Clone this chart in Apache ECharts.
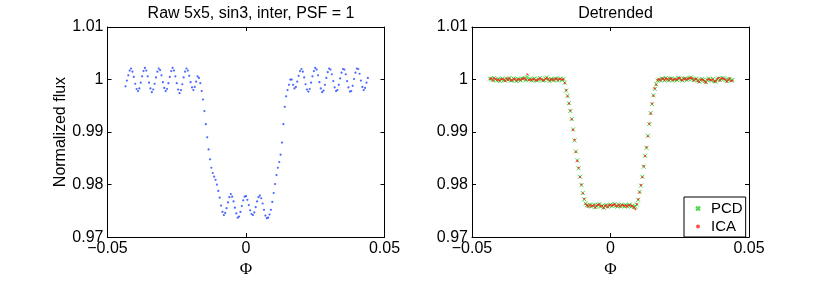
<!DOCTYPE html>
<html><head><meta charset="utf-8">
<script src="https://cdn.jsdelivr.net/npm/echarts@6/dist/echarts.min.js"></script>
<style>html,body{margin:0;padding:0;background:#fff}#c{width:830px;height:283px}</style>
</head><body><div id="c"></div>
<script>
// Phase values (x)
const phase = [
-0.0435,-0.043,-0.0425,-0.042,-0.0415,-0.041,-0.0405,-0.04,-0.0395,-0.039,
-0.0385,-0.038,-0.0375,-0.037,-0.0365,-0.036,-0.0355,-0.035,-0.0345,-0.034,
-0.0335,-0.033,-0.0325,-0.032,-0.0315,-0.031,-0.0305,-0.03,-0.0295,-0.029,
-0.0285,-0.028,-0.0275,-0.027,-0.0265,-0.026,-0.0255,-0.025,-0.0245,-0.024,
-0.0235,-0.023,-0.0225,-0.022,-0.0215,-0.021,-0.0205,-0.02,-0.0195,-0.019,
-0.0185,-0.018,-0.0175,-0.017,-0.0165,-0.016,-0.0155,-0.015,-0.0145,-0.014,
-0.0135,-0.013,-0.0125,-0.012,-0.0115,-0.011,-0.0105,-0.01,-0.0095,-0.009,
-0.0085,-0.008,-0.0075,-0.007,-0.0065,-0.006,-0.0055,-0.005,-0.0045,-0.004,
-0.0035,-0.003,-0.0025,-0.002,-0.0015,-0.001,-0.0005,0,0.0005,0.001,
0.0015,0.002,0.0025,0.003,0.0035,0.004,0.0045,0.005,0.0055,0.006,
0.0065,0.007,0.0075,0.008,0.0085,0.009,0.0095,0.01,0.0105,0.011,
0.0115,0.012,0.0125,0.013,0.0135,0.014,0.0145,0.015,0.0155,0.016,
0.0165,0.017,0.0175,0.018,0.0185,0.019,0.0195,0.02,0.0205,0.021,
0.0215,0.022,0.0225,0.023,0.0235,0.024,0.0245,0.025,0.0255,0.026,
0.0265,0.027,0.0275,0.028,0.0285,0.029,0.0295,0.03,0.0305,0.031,
0.0315,0.032,0.0325,0.033,0.0335,0.034,0.0345,0.035,0.0355,0.036,
0.0365,0.037,0.0375,0.038,0.0385,0.039,0.0395,0.04,0.0405,0.041,
0.0415,0.042,0.0425,0.043,0.0435,0.044
];
// Raw normalized flux (left panel)
const rawFlux = [
0.9987,0.9998,1.0008,1.0017,1.0021,1.0015,1.0005,0.9992,0.9982,0.9978,
0.9983,0.9994,1.0006,1.0016,1.0022,1.0017,1.0006,0.9994,0.9983,0.9976,
0.9981,0.9992,1.0004,1.0015,1.0021,1.0018,1.0008,0.9995,0.9984,0.9978,
0.9982,0.9993,1.0005,1.0016,1.0022,1.0017,1.0006,0.9993,0.9981,0.9974,
0.998,0.9991,1.0004,1.0015,1.0021,1.0017,1.0007,0.9995,0.9985,0.998,
0.9986,0.9996,1.0006,1.0003,0.9993,0.9978,0.9962,0.994,0.9915,0.989,
0.9867,0.9848,0.9832,0.9822,0.9815,0.9809,0.98,0.9788,0.9775,0.976,
0.9748,0.9742,0.9746,0.9755,0.9766,0.9776,0.9782,0.9777,0.9768,0.9756,
0.9745,0.9737,0.9739,0.9748,0.9759,0.977,0.9777,0.9778,0.9771,0.9761,
0.9751,0.9744,0.9742,0.9747,0.9757,0.9768,0.9776,0.9779,0.9774,0.9764,
0.9752,0.9741,0.9736,0.9737,0.9743,0.9752,0.9767,0.9784,0.9801,0.9818,
0.9832,0.9843,0.9857,0.988,0.9915,0.9948,0.9968,0.998,0.999,1.0,
1.0,0.999,0.9983,0.9986,0.9996,1.0007,1.0016,1.002,1.0015,1.0004,
0.9991,0.9981,0.9977,0.9982,0.9994,1.0006,1.0016,1.0022,1.0019,1.0008,
0.9995,0.9983,0.9976,0.9979,0.999,1.0003,1.0014,1.0021,1.0019,1.001,
0.9997,0.9985,0.9978,0.998,0.999,1.0002,1.0013,1.002,1.0019,1.001,
0.9997,0.9985,0.9977,0.9978,0.9988,1.0001,1.0013,1.0021,1.002,1.0011,
0.9998,0.9986,0.998,0.9984,0.9994,1.0003
];
// Detrended flux, PCD (right panel)
const pcdFlux = [
1.0002,1.0001,0.9999,1.0003,1.0,0.9998,1.0001,0.9997,1.0,1.0002,
0.9999,0.9998,1.0001,1.0,1.0003,0.9998,0.9999,1.0002,1.0,0.9997,
1.0001,1.0,0.9998,1.0002,1.0001,1.0003,0.9999,1.0005,1.0,1.0001,
0.9998,1.0,1.0002,0.9999,0.9998,1.0001,1.0003,1.0,0.9998,0.9999,
1.0002,1.0004,1.0,0.9997,1.0001,1.0,0.9999,1.0002,1.0001,0.9998,
1.0,1.0002,0.9999,1.0001,0.9994,0.9979,0.9969,0.9955,0.994,0.9925,
0.9905,0.9884,0.9863,0.9846,0.9831,0.9815,0.9799,0.9784,0.9772,0.9764,
0.9761,0.9759,0.9761,0.9758,0.976,0.9762,0.9757,0.9759,0.9761,0.9763,
0.9758,0.976,0.9756,0.9759,0.9761,0.9758,0.976,0.9762,0.9759,0.9761,
0.9763,0.976,0.9758,0.9761,0.9759,0.9762,0.976,0.9758,0.9761,0.9759,
0.976,0.9762,0.9758,0.976,0.9757,0.9758,0.9762,0.9771,0.9786,0.9798,
0.9815,0.9834,0.9855,0.987,0.9893,0.9915,0.9936,0.9953,0.997,0.9982,
0.9991,0.9998,1.0,0.9999,1.0002,1.0001,0.9998,1.0003,1.0,0.9999,
1.0001,1.0002,0.9998,1.0,1.0001,0.9999,1.0003,1.0002,1.0,0.9998,
1.0001,1.0002,0.9999,1.0001,1.0003,1.0004,1.0001,0.9999,1.0,1.0002,
0.9998,0.9996,0.9999,1.0001,1.0,0.9997,0.9995,0.9999,1.0002,1.0,
0.9998,1.0001,0.9997,0.9996,1.0,1.0002,0.9999,1.0001,1.0003,1.0002,
0.9999,0.9997,1.0,1.0001,0.9998,0.9999
];
// Detrended flux, ICA (right panel)
const icaFlux = [
1.0001,1.0002,0.9998,1.0002,1.0001,0.9999,1.0,0.9998,1.0001,1.0001,
1.0,0.9997,1.0002,0.9999,1.0002,0.9999,0.9998,1.0001,1.0001,0.9998,
1.0,1.0001,0.9999,1.0001,1.0002,1.0002,1.0,1.001,0.9999,1.0,
0.9999,1.0001,1.0001,0.9998,0.9999,1.0,1.0002,1.0001,0.9999,0.9998,
1.0001,1.0003,1.0001,0.9998,1.0,1.0001,0.9998,1.0001,1.0002,0.9999,
1.0001,1.0001,1.0,1.0,0.9993,0.998,0.9968,0.9954,0.9941,0.9924,
0.9904,0.9885,0.9862,0.9845,0.9832,0.9814,0.98,0.9783,0.9773,0.9763,
0.976,0.9758,0.9762,0.9759,0.9759,0.9761,0.9756,0.976,0.9762,0.9762,
0.9759,0.9759,0.9755,0.976,0.976,0.9757,0.9761,0.9761,0.976,0.9762,
0.9762,0.9759,0.9759,0.9762,0.9758,0.9761,0.9761,0.9759,0.976,0.9758,
0.9761,0.9761,0.9759,0.9759,0.9756,0.9753,0.9763,0.9772,0.9785,0.9799,
0.9814,0.9835,0.9854,0.9871,0.9892,0.9916,0.9935,0.9954,0.9969,0.9983,
0.999,0.9999,1.0001,0.9998,1.0001,1.0002,0.9999,1.0002,1.0001,0.9998,
1.0002,1.0001,0.9999,1.0001,1.0,1.0,1.0002,1.0003,0.9999,0.9999,
1.0002,1.0001,1.0,1.0002,1.0002,1.0003,1.0002,0.9998,1.0001,1.0001,
0.9997,0.9995,1.0,1.0,0.9999,0.9996,0.9994,1.0,1.0001,0.9999,
0.9999,1.0,0.9996,0.9997,1.0001,1.0003,0.9998,1.0002,1.0002,1.0001,
1.0,0.9996,0.9999,1.0002,0.9997,0.9998
];
const xRange = [-0.05, 0.05];
const xStep = 0.05;
const yRange = [0.97, 1.01];
const yStep = 0.01;
const panelTitles = ['Raw 5x5, sin3, inter, PSF = 1', 'Detrended'];
const seriesNames = ['PCD', 'ICA'];
const xName = 'Φ';
const yName = 'Normalized flux';

const FONT = 'Liberation Sans, Arial, Helvetica, sans-serif';
const SERIF = 'Liberation Serif, DejaVu Serif, serif';
const pairs = ys => phase.map((p, i) => [p, ys[i]]);
const xFmt = v => Math.abs(v) < 1e-9 ? '0' : (v < 0 ? '\u2212' + (+Math.abs(v).toFixed(4)) : String(+v.toFixed(4)));
const yFmt = v => String(+v.toFixed(4));

const grids = [
  {left: 107.5, top: 27, width: 277, height: 213.5},
  {left: 472, top: 27, width: 277, height: 213.5}
];
const line = {show: true, onZero: false, lineStyle: {color: '#000', width: 1}};
const tick = {show: true, inside: true, length: 4, lineStyle: {color: '#000', width: 1}};
const lab = {color: '#000', fontSize: 16, fontFamily: FONT};

const xAxis = [], yAxis = [];
grids.forEach((g, gi) => {
  xAxis.push({gridIndex: gi, type: 'value', min: xRange[0], max: xRange[1], interval: xStep, position: 'bottom',
    axisLine: line, axisTick: tick, splitLine: {show: false},
    axisLabel: Object.assign({margin: 3, formatter: xFmt}, lab),
    name: xName, nameLocation: 'middle', nameGap: 18,
    nameTextStyle: {color: '#000', fontSize: 17, fontFamily: SERIF}});
  xAxis.push({gridIndex: gi, type: 'value', min: xRange[0], max: xRange[1], interval: xStep, position: 'top',
    axisLine: line, axisTick: tick, splitLine: {show: false}, axisLabel: {show: false}});
  yAxis.push({gridIndex: gi, type: 'value', min: yRange[0], max: yRange[1], interval: yStep, position: 'left',
    axisLine: line, axisTick: tick, splitLine: {show: false},
    axisLabel: Object.assign({margin: 4, formatter: yFmt}, lab),
    name: gi === 0 ? yName : '', nameLocation: 'middle', nameGap: 36, nameTextStyle: lab});
  yAxis.push({gridIndex: gi, type: 'value', min: yRange[0], max: yRange[1], interval: yStep, position: 'right',
    axisLine: line, axisTick: tick, splitLine: {show: false}, axisLabel: {show: false}});
});

const option = {
  backgroundColor: '#fff',
  animation: false,
  title: panelTitles.map((t, i) => ({
    text: t, left: grids[i].left + grids[i].width / 2, top: 1, textAlign: 'center',
    textStyle: {color: '#000', fontSize: 16, fontWeight: 'normal', fontFamily: FONT}
  })),
  grid: grids,
  xAxis: xAxis,
  yAxis: yAxis,
  legend: {
    orient: 'vertical', left: 684, top: 197, selectedMode: false,
    data: seriesNames,
    backgroundColor: '#fff', borderColor: '#000', borderWidth: 1, borderRadius: 0,
    padding: [4, 3, 3, 11], itemWidth: 4, itemHeight: 4, itemGap: 3,
    textStyle: {color: '#000', fontSize: 15, fontFamily: FONT, padding: [0, 0, 0, 6]}
  },
  series: [
    {type: 'scatter', name: 'Raw', xAxisIndex: 0, yAxisIndex: 0, data: pairs(rawFlux),
      symbol: 'circle', symbolSize: 2.2, itemStyle: {color: '#2244ff'}, silent: true},
    {type: 'scatter', name: seriesNames[0], xAxisIndex: 2, yAxisIndex: 2, data: pairs(pcdFlux),
      symbol: 'path://M0,0L10,10M10,0L0,10', symbolSize: 4,
      itemStyle: {color: 'rgba(0,0,0,0)', borderColor: '#22cc22', borderWidth: 1}, silent: true},
    {type: 'scatter', name: seriesNames[1], xAxisIndex: 2, yAxisIndex: 2, data: pairs(icaFlux),
      symbol: 'circle', symbolSize: 2.2, itemStyle: {color: '#ff2020'}, silent: true}
  ]
};
const chart = echarts.init(document.getElementById('c'), null, {renderer: 'canvas'});
chart.setOption(option);
</script></body></html>
